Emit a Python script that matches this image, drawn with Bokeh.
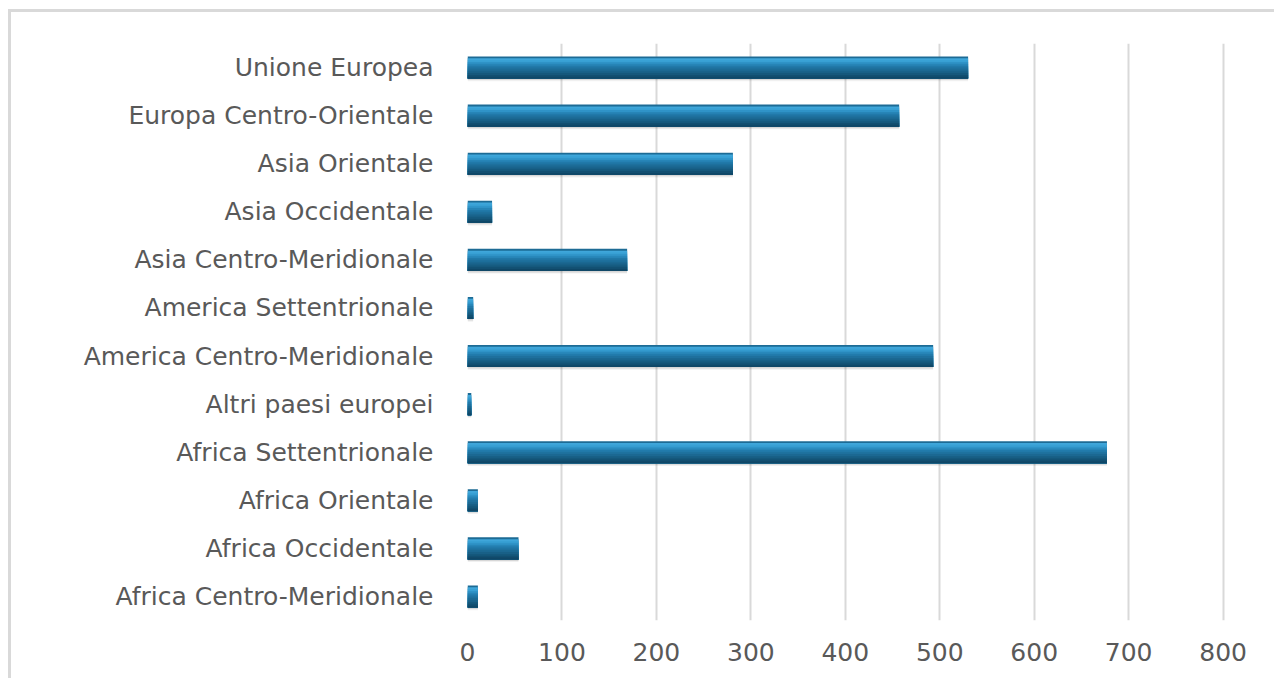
from bokeh.plotting import figure
from bokeh.models import Range1d, FixedTicker, ColumnDataSource
from bokeh.transform import dodge
from bokeh.embed import file_html
from bokeh.resources import INLINE

# Data (categories from bottom to top)
categories = [
    "Africa Centro-Meridionale",
    "Africa Occidentale",
    "Africa Orientale",
    "Africa Settentrionale",
    "Altri paesi europei",
    "America Centro-Meridionale",
    "America Settentrionale",
    "Asia Centro-Meridionale",
    "Asia Occidentale",
    "Asia Orientale",
    "Europa Centro-Orientale",
    "Unione Europea",
]
values = [11, 54, 11, 677, 4, 493, 6, 169, 26, 281, 457, 530]
x_ticks = [0, 100, 200, 300, 400, 500, 600, 700, 800]

src = ColumnDataSource(dict(cat=categories, val=values))

p = figure(
    y_range=categories,
    x_range=Range1d(0, 829),
    width=1266, height=669,
    output_backend="svg",
    toolbar_location=None,
    min_border_left=456, min_border_right=27,
    min_border_top=31, min_border_bottom=61,
    styles={"margin-left": "8px", "margin-top": "9px",
            "border-top": "3px solid #d9d9d9", "border-left": "3px solid #d9d9d9"},
)
p.y_range.range_padding = 0
p.outline_line_color = None
p.background_fill_color = "white"
p.border_fill_color = "white"

# grid
p.ygrid.grid_line_color = None
p.xgrid.grid_line_color = "#d9d9d9"
p.xgrid.grid_line_width = 2
p.xaxis.ticker = FixedTicker(ticks=x_ticks)

H = 0.46
# soft shadow
p.hbar(y=dodge("cat", -0.055, range=p.y_range), right="val", left=0, height=H,
       source=src, fill_color="#000000", fill_alpha=0.06, line_color=None)
p.hbar(y=dodge("cat", -0.03, range=p.y_range), right="val", left=0, height=H,
       source=src, fill_color="#000000", fill_alpha=0.10, line_color=None)

# gradient layers, top to bottom (each layer spans from its top edge to the bar bottom)
strip_colors = ["#1d6b95", "#3fa6da", "#38a0d4", "#2f93c7", "#2785b7", "#2179a9",
                "#1e709d", "#1b6892", "#186087", "#15587c", "#124f71", "#0f4767"]
n = len(strip_colors)
sh = H / n
for i, c in enumerate(strip_colors):
    top = H / 2 - sh * i
    hh = sh * (n - i)
    p.hbar(y=dodge("cat", top - hh / 2, range=p.y_range), right="val", left=0,
           height=hh, source=src, fill_color=c, line_color=None)

for ax in (p.xaxis, p.yaxis):
    ax.axis_line_color = None
    ax.major_tick_line_color = None
    ax.minor_tick_line_color = None
    ax.major_label_text_color = "#595959"
    ax.major_label_text_font = "DejaVu Sans"
    ax.major_label_text_font_size = "25px"

p.yaxis.major_label_standoff = 28
p.xaxis.major_label_standoff = 16

open("out.html", "w").write(file_html(p, INLINE))
